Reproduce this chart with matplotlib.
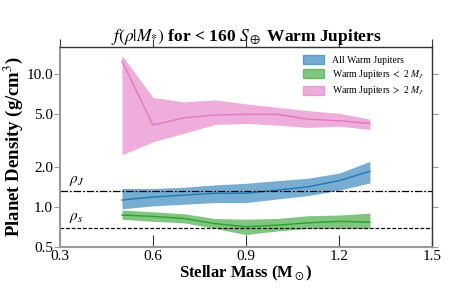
import numpy as np
import matplotlib
matplotlib.use("Agg")
import matplotlib.pyplot as plt
from matplotlib.patches import Patch
from matplotlib.ticker import FixedLocator, FormatStrFormatter, NullLocator

plt.rcParams['font.family'] = ['Liberation Serif', 'DejaVu Serif']
plt.rcParams['mathtext.fontset'] = 'stix'

# stellar mass bins
mass = [0.5, 0.6, 0.7, 0.8, 0.9, 1.0, 1.1, 1.2, 1.3]

# all warm jupiters: median and band
all_med = [1.13, 1.19, 1.23, 1.27, 1.27, 1.34, 1.42, 1.58, 1.86]
all_lo = [0.97, 1.02, 1.05, 1.08, 1.08, 1.15, 1.22, 1.34, 1.52]
all_hi = [1.38, 1.38, 1.41, 1.47, 1.51, 1.58, 1.65, 1.80, 2.21]

# warm jupiters < 2 M_J
low_med = [0.87, 0.85, 0.82, 0.75, 0.71, 0.73, 0.76, 0.78, 0.77]
low_lo = [0.81, 0.78, 0.76, 0.69, 0.62, 0.66, 0.69, 0.69, 0.69]
low_hi = [0.95, 0.92, 0.89, 0.82, 0.81, 0.82, 0.86, 0.87, 0.90]

# warm jupiters > 2 M_J
high_med = [12.6, 4.15, 4.7, 4.94, 5.0, 5.0, 4.6, 4.47, 4.27]
high_lo = [2.48, 3.1, 3.6, 4.2, 4.27, 4.15, 3.98, 4.07, 3.85]
high_hi = [13.9, 6.7, 6.2, 6.43, 5.99, 5.65, 5.33, 5.09, 4.6]

rho_jup = 1.33
rho_sat = 0.70

yticks = [0.5, 1.0, 2.0, 5.0, 10.0]
xticks = [0.3, 0.6, 0.9, 1.2, 1.5]

fig = plt.figure(figsize=(4.49, 2.99), dpi=100)
ax = fig.add_axes([0.1336, 0.174, 0.8284, 0.669])

series = [
    (all_med, all_lo, all_hi, '#1f77b4', 'All Warm Jupiters'),
    (low_med, low_lo, low_hi, '#2ca02c', r'Warm Jupiters $<$ 2 $M_J$'),
    (high_med, high_lo, high_hi, '#e377c2', r'Warm Jupiters $>$ 2 $M_J$'),
]
handles = []
for med, lo, hi, c, lab in series:
    ax.fill_between(mass, lo, hi, color=c, alpha=0.6, lw=0)
    ax.plot(mass, med, color=c, lw=1.0)
    handles.append(Patch(facecolor=c, alpha=0.6, edgecolor=c, label=lab))

ax.axhline(rho_jup, color='k', ls=(0, (6, 1.5, 1.5, 1.5)), lw=0.9)
ax.axhline(rho_sat, color='k', ls=(0, (3, 1.5)), lw=0.9)
ax.text(0.33, rho_jup * 1.05, r'$\rho_J$', fontsize=11, va='bottom')
ax.text(0.33, rho_sat * 1.05, r'$\rho_s$', fontsize=11, va='bottom')

ax.set_yscale('log')
ax.set_xlim(0.3, 1.5)
ax.set_ylim(0.5, 16.1)
ax.yaxis.set_major_locator(FixedLocator(yticks))
ax.yaxis.set_major_formatter(FormatStrFormatter('%.1f'))
ax.yaxis.set_minor_locator(NullLocator())
ax.set_xticks(xticks)
ax.set_xticklabels([f'{t:.1f}' for t in xticks])

for side in ['left', 'bottom']:
    ax.spines[side].set_color('#999999')
    ax.spines[side].set_linewidth(1.5)
for side in ['top', 'right']:
    ax.spines[side].set_color('#333333')
    ax.spines[side].set_linewidth(1.0)

ax.tick_params(axis='y', which='major', direction='out', length=4, color='#999999',
               labelsize=11, right=True, pad=1)
ax.tick_params(axis='x', which='major', direction='in', length=9, color='#333333',
               labelsize=11, top=False, pad=2)
# outward ticks on the top edge
ax2 = ax.secondary_xaxis('top')
ax2.set_xticks(xticks)
ax2.tick_params(direction='out', length=6, color='#333333', labelsize=0, labeltop=False)
ax2.spines['top'].set_visible(False)

ax.set_xlabel(r'Stellar Mass (M$_\odot$)', fontsize=12, fontweight='bold', labelpad=1)
ax.set_ylabel(r'Planet Density (g/cm$^3$)', fontsize=13.5, fontweight='bold', labelpad=1)
ax.set_title(r'$f(\rho|M_{*})$ for < 160 $S_\oplus$ Warm Jupiters', fontsize=12.5,
             fontweight='bold', pad=4)

ax.legend(handles=handles, loc='upper right', fontsize=7, frameon=False,
          handlelength=2.2, handleheight=1.1, borderaxespad=0.4, labelspacing=0.35)

fig.savefig('out.png', dpi=100)
